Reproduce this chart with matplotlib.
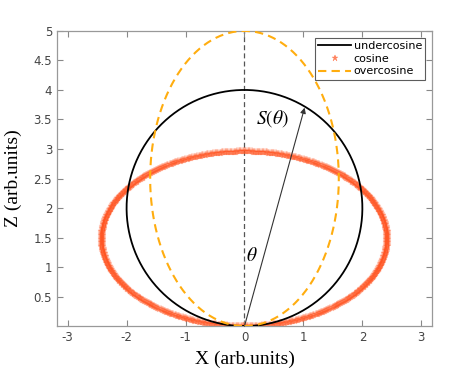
import numpy as np
import matplotlib
matplotlib.use("Agg")
import matplotlib.pyplot as plt

plt.rcParams["mathtext.fontset"] = "stix"

# emission profiles as ellipses: centre z, half-width in x, half-height in z
names = ["undercosine", "cosine", "overcosine"]
half_x = [2.0, 2.42, 1.6]
half_z = [2.0, 1.48, 2.5]
centre_z = [2.0, 1.48, 2.5]

# arrow S(theta) to a point on the undercosine circle
arrow_tip = (1.02, 3.70)

xticks = [-3, -2, -1, 0, 1, 2, 3]
yticks = [0.5, 1, 1.5, 2, 2.5, 3, 3.5, 4, 4.5, 5]

fig = plt.figure(figsize=(4.49, 3.77), dpi=100)
ax = fig.add_axes([0.127, 0.135, 0.835, 0.783])

t = np.linspace(0, 2 * np.pi, 400)

# vertical reference line
ax.plot([0, 0], [0, 5], color="#555555", lw=0.9, ls=(0, (4, 2.5)), zorder=1)

# undercosine
x = half_x[0] * np.sin(t)
z = centre_z[0] - half_z[0] * np.cos(t)
ax.plot(x, z, color="black", lw=1.3, label=names[0], zorder=3)

# cosine (dense star markers)
tc = np.linspace(0, 2 * np.pi, 700)
x = half_x[1] * np.sin(tc)
z = centre_z[1] - half_z[1] * np.cos(tc)
ax.plot(x, z, ls="none", marker="*", ms=6, color="#ff5522", alpha=0.35,
        markeredgewidth=0.3, label=names[1], zorder=2)

# overcosine
x = half_x[2] * np.sin(t)
z = centre_z[2] - half_z[2] * np.cos(t)
ax.plot(x, z, color="#ffad0f", lw=1.5, ls=(0, (4, 2.5)), label=names[2], zorder=4)

ax.annotate("", xy=arrow_tip, xytext=(0, 0),
            arrowprops=dict(arrowstyle="-|>", color="#333333", lw=0.8,
                            mutation_scale=8, shrinkA=0, shrinkB=0))
ax.text(0.48, 3.52, r"$S(\theta)$", fontsize=14,
        ha="center", va="center")
ax.text(0.12, 1.2, r"$\theta$", fontsize=14,
        ha="center", va="center")

ax.set_xlim(-3.18, 3.18)
ax.set_ylim(0, 5)
ax.set_xticks(xticks)
ax.set_yticks(yticks)
ax.set_xticklabels([str(v) for v in xticks])
ax.set_yticklabels(["0.5", "1", "1.5", "2", "2.5", "3", "3.5", "4", "4.5", "5"])
ax.tick_params(direction="in", top=True, right=True, labelsize=8.5,
               labelcolor="#444444", color="#888888", length=4, width=0.8)
for s in ax.spines.values():
    s.set_color("#999999")
    s.set_linewidth(0.9)

ax.set_xlabel("X (arb.units)", family="Liberation Serif", fontsize=14, labelpad=5)
ax.set_ylabel("Z (arb.units)", family="Liberation Serif", fontsize=14, labelpad=8)

leg = ax.legend(loc="upper right", fontsize=8, frameon=True, fancybox=False,
                edgecolor="#333333", borderpad=0.3, handlelength=3.0,
                handletextpad=0.2, labelspacing=0.25, borderaxespad=0.6)
leg.get_frame().set_linewidth(0.8)
leg.legend_handles[1].set_alpha(0.7)
leg.legend_handles[1].set_markersize(5)

fig.savefig("out.png", dpi=100)
